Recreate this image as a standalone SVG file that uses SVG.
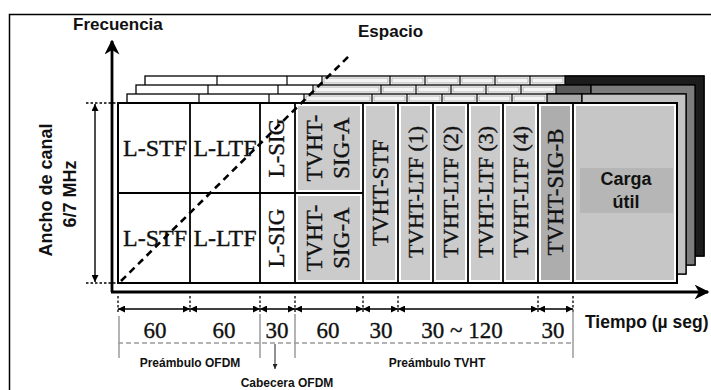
<svg xmlns="http://www.w3.org/2000/svg" width="711" height="390" viewBox="0 0 711 390">
<style>
.sans{font-family:"Liberation Sans",Arial,sans-serif;font-weight:bold;fill:#111}
.serif{font-family:"Liberation Serif","Times New Roman",serif;fill:#111;stroke:#111;stroke-width:0.35}
.h{font-size:24px;text-anchor:middle}
.v{font-size:23px;text-anchor:middle}
.v2{font-size:22px;text-anchor:middle}
.num{font-size:23px;text-anchor:middle}
.lay{fill:#fff;stroke:#000;stroke-width:1.3}
.ld{stroke:#000;stroke-width:1.2}
.lb{fill:#f4f4f4;stroke:#9a9a9a;stroke-width:0.7}
.frame{fill:#fff;stroke:#000;stroke-width:2}
.div{stroke:#000;stroke-width:1.8}
.g1{fill:#cbcbcb}
.g2{fill:#adadad}
.tick{stroke:#000;stroke-width:1.3;stroke-dasharray:2.5 2}
.dim{stroke:#000;stroke-width:1.4;marker-start:url(#ah);marker-end:url(#ah)}
.gl{stroke:#8c8c8c;stroke-width:1.3}
.axis{stroke:#000;stroke-width:2.8;fill:none;marker-end:url(#big)}
</style>
<defs>
<marker id="ah" viewBox="0 0 10 10" refX="10" refY="5" markerWidth="8" markerHeight="7" orient="auto-start-reverse" markerUnits="userSpaceOnUse">
<path d="M0,0 L10,5 L0,10 z" fill="#000"/>
</marker>
<marker id="big" viewBox="0 0 10 10" refX="9" refY="5" markerWidth="15" markerHeight="15" orient="auto" markerUnits="userSpaceOnUse">
<path d="M0,0 L10,5 L0,10 L3,5 z" fill="#000"/>
</marker>
<marker id="sm" viewBox="0 0 10 10" refX="10" refY="5" markerWidth="6" markerHeight="5" orient="auto" markerUnits="userSpaceOnUse">
<path d="M0,0 L10,5 L0,10 z" fill="#222"/>
</marker>
</defs>

<rect width="711" height="390" fill="#fff"/>
<path d="M9.5,392 V14.5 H712" fill="none" stroke="#000" stroke-width="1.5"/>

<!-- stacked layers (spatial streams) -->
<g id="layer3">
<rect class="lay" x="145" y="76" width="559" height="180"/>
<path class="ld" d="M217,76v9 M287,76v9 M322,76v9 M390,76v9 M425,76v9 M460,76v9 M495,76v9 M530,76v9"/>
<rect class="lb" x="324" y="78" width="64" height="5"/><rect class="lb" x="392" y="78" width="31" height="5"/><rect class="lb" x="427" y="78" width="31" height="5"/><rect class="lb" x="462" y="78" width="31" height="5"/><rect class="lb" x="497" y="78" width="31" height="5"/><rect class="lb" x="532" y="78" width="31" height="5"/>
<rect x="565" y="76" width="139" height="180" fill="#1c1c1c" stroke="#000" stroke-width="1.3"/>
</g>
<g id="layer2">
<rect class="lay" x="136" y="85" width="559" height="180"/>
<path class="ld" d="M208,85v9 M278,85v9 M313,85v9 M381,85v9 M416,85v9 M451,85v9 M486,85v9 M521,85v9"/>
<rect class="lb" x="315" y="87" width="64" height="5"/><rect class="lb" x="383" y="87" width="31" height="5"/><rect class="lb" x="418" y="87" width="31" height="5"/><rect class="lb" x="453" y="87" width="31" height="5"/><rect class="lb" x="488" y="87" width="31" height="5"/><rect class="lb" x="523" y="87" width="31" height="5"/>
<rect x="556" y="85" width="35" height="180" fill="#5a5a5a" stroke="#000" stroke-width="1.3"/>
<rect x="591" y="85" width="104" height="180" fill="#7c7c7c" stroke="#000" stroke-width="1.3"/>
</g>
<g id="layer1">
<rect class="lay" x="127" y="94" width="559" height="180"/>
<path class="ld" d="M199,94v9 M269,94v9 M304,94v9 M372,94v9 M407,94v9 M442,94v9 M477,94v9 M512,94v9"/>
<rect class="lb" x="306" y="96" width="64" height="5"/><rect class="lb" x="374" y="96" width="31" height="5"/><rect class="lb" x="409" y="96" width="31" height="5"/><rect class="lb" x="444" y="96" width="31" height="5"/><rect class="lb" x="479" y="96" width="31" height="5"/><rect class="lb" x="514" y="96" width="31" height="5"/>
<rect x="547" y="94" width="35" height="180" fill="#a9a9a9" stroke="#000" stroke-width="1.3"/>
<rect x="582" y="94" width="104" height="180" fill="#c3c3c3" stroke="#000" stroke-width="1.3"/>
</g>

<!-- front frame -->
<g id="front">
<rect class="frame" x="118" y="103" width="559" height="180"/>
</g>

<g id="lstf">
<text class="serif h" x="155" y="156">L-STF</text>
<text class="serif h" x="155" y="246">L-STF</text>
</g>
<g id="lltf">
<text class="serif h" x="225" y="156">L-LTF</text>
<text class="serif h" x="225" y="246">L-LTF</text>
</g>
<g id="lsig">
<text class="serif v" transform="translate(284,148) rotate(-90)">L-SIG</text>
<text class="serif v" transform="translate(284,238) rotate(-90)">L-SIG</text>
</g>
<g id="tvht-sig-a">
<rect class="g1" x="298" y="106" width="62" height="84"/>
<rect class="g1" x="298" y="196" width="62" height="84"/>
<text class="serif v" transform="translate(322,148) rotate(-90)">TVHT-</text>
<text class="serif v" transform="translate(349,148) rotate(-90)">SIG-A</text>
<text class="serif v" transform="translate(322,238) rotate(-90)">TVHT-</text>
<text class="serif v" transform="translate(349,238) rotate(-90)">SIG-A</text>
</g>
<g id="tvht-stf">
<rect class="g1" x="366" y="106" width="29" height="174"/>
<text class="serif v" transform="translate(388,193) rotate(-90)">TVHT-STF</text>
</g>
<g id="tvht-ltf1">
<rect class="g1" x="401" y="106" width="29" height="174"/>
<text class="serif v2" transform="translate(423,192) rotate(-90)">TVHT-LTF (1)</text>
</g>
<g id="tvht-ltf2">
<rect class="g1" x="436" y="106" width="29" height="174"/>
<text class="serif v2" transform="translate(458,192) rotate(-90)">TVHT-LTF (2)</text>
</g>
<g id="tvht-ltf3">
<rect class="g1" x="471" y="106" width="29" height="174"/>
<text class="serif v2" transform="translate(493,192) rotate(-90)">TVHT-LTF (3)</text>
</g>
<g id="tvht-ltf4">
<rect class="g1" x="506" y="106" width="29" height="174"/>
<text class="serif v2" transform="translate(528,192) rotate(-90)">TVHT-LTF (4)</text>
</g>
<g id="tvht-sig-b">
<rect class="g2" x="541" y="106" width="29" height="174"/>
<text class="serif v" transform="translate(563,192) rotate(-90)">TVHT-SIG-B</text>
</g>
<g id="carga">
<rect x="576" y="106" width="98" height="174" fill="#c6c6c6"/>
<rect x="580" y="168" width="93" height="45" fill="#b6b6b6"/>
<text class="sans" x="626" y="185" font-size="18" text-anchor="middle">Carga</text>
<text class="sans" x="626" y="208" font-size="18" text-anchor="middle">útil</text>
</g>

<g id="grid">
<path class="div" d="M118,193H363 M190,103V283 M260,103V283 M295,103V283 M363,103V283 M398,103V283 M433,103V283 M468,103V283 M503,103V283 M538,103V283 M573,103V283"/>
<rect x="118" y="103" width="559" height="180" fill="none" stroke="#000" stroke-width="2"/>
</g>

<!-- connectors: axes, dimensions, dashed space line -->
<g id="connectors">
<line x1="121" y1="281" x2="351" y2="54" stroke="#000" stroke-width="2.6" stroke-dasharray="7 5"/>
<path class="axis" d="M112,292V41"/>
<path class="axis" d="M111,292H708"/>
<path class="tick" d="M86,103H118 M86,283H118"/>
<line class="dim" x1="95" y1="104" x2="95" y2="282"/>
<path class="tick" d="M118,296V314 M190,296V314 M260,296V314 M295,296V314 M363,296V314 M398,296V314 M538,296V314 M573,296V314"/>
<line class="dim" x1="118" y1="309" x2="190" y2="309"/>
<line class="dim" x1="190" y1="309" x2="260" y2="309"/>
<line class="dim" x1="260" y1="309" x2="295" y2="309"/>
<line class="dim" x1="295" y1="309" x2="363" y2="309"/>
<line class="dim" x1="363" y1="309" x2="398" y2="309"/>
<line class="dim" x1="398" y1="309" x2="538" y2="309"/>
<line class="dim" x1="538" y1="309" x2="573" y2="309"/>
<path class="gl" d="M119,316V358 M260,314V358 M295,314V358 M573,310V358"/>
<line x1="118" y1="343" x2="573" y2="343" stroke="#9a9a9a" stroke-width="1.4" stroke-dasharray="5 3"/>
<line x1="275" y1="344" x2="275" y2="369" stroke="#222" stroke-width="1" marker-end="url(#sm)"/>
</g>

<g id="labels">
<text class="sans" x="73" y="30" font-size="17">Frecuencia</text>
<text class="sans" x="358" y="37" font-size="17">Espacio</text>
<text class="sans" x="585" y="328" font-size="17.5">Tiempo (µ seg)</text>
<text class="sans" transform="translate(52,190) rotate(-90)" font-size="18" text-anchor="middle">Ancho de canal</text>
<text class="sans" transform="translate(76,194) rotate(-90)" font-size="18" text-anchor="middle">6/7 MHz</text>
<text class="serif num" x="155" y="338">60</text>
<text class="serif num" x="224" y="338">60</text>
<text class="serif num" x="277" y="338">30</text>
<text class="serif num" x="328" y="338">60</text>
<text class="serif num" x="381" y="338">30</text>
<text class="serif num" x="462" y="338">30 ~ 120</text>
<text class="serif num" x="553" y="338">30</text>
<text class="sans" x="190" y="367" font-size="12" text-anchor="middle">Preámbulo OFDM</text>
<text class="sans" x="437" y="367" font-size="12" text-anchor="middle">Preámbulo TVHT</text>
<text class="sans" x="287" y="387" font-size="12" text-anchor="middle">Cabecera OFDM</text>
</g>
</svg>
